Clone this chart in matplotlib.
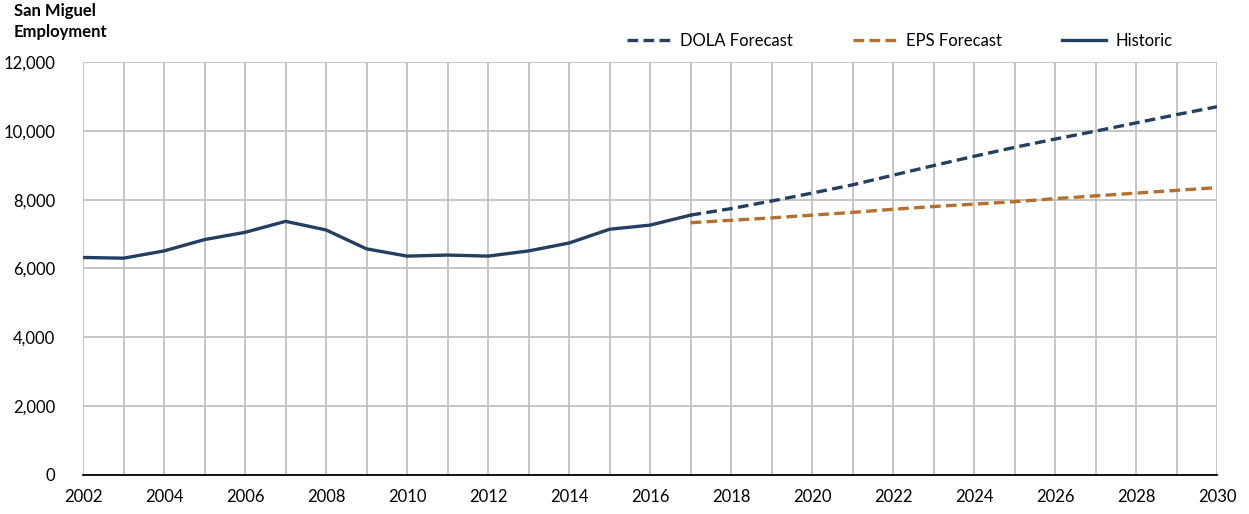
import matplotlib
matplotlib.use("Agg")
import matplotlib.pyplot as plt

plt.rcParams['font.family'] = ['Lato', 'DejaVu Sans']

# Historic employment, San Miguel County
hist_years = list(range(2002, 2018))
hist_vals = [6320, 6300, 6510, 6840, 7050, 7370, 7120, 6570,
             6360, 6390, 6360, 6510, 6740, 7140, 7260, 7550]

# forecasts 2017-2030
fc_years = list(range(2017, 2031))
dola_vals = [7550, 7740, 7960, 8190, 8430, 8710, 8990, 9260,
             9520, 9760, 9990, 10230, 10470, 10700]
eps_vals = [7330, 7400, 7470, 7550, 7630, 7720, 7800, 7870,
            7940, 8030, 8110, 8190, 8270, 8350]

navy = '#243f62'
orange = '#b5702c'

fig = plt.figure(figsize=(12.49, 5.14), dpi=100)
ax = fig.add_axes([0.0665, 0.0759, 0.9079, 0.8035])

ax.plot(fc_years, dola_vals, color=navy, lw=2.4, dashes=(3.2, 1.6), label='DOLA Forecast', zorder=3)
ax.plot(fc_years, eps_vals, color=orange, lw=2.4, dashes=(3.2, 1.6), label='EPS Forecast', zorder=3)
ax.plot(hist_years, hist_vals, color=navy, lw=2.4, label='Historic', zorder=4)

ax.set_xlim(2002, 2030)
ax.set_ylim(0, 12000)
ax.set_xticks(range(2002, 2031), minor=True)
ax.set_xticks(range(2002, 2031, 2))
ax.set_yticks(range(0, 12001, 2000))
ax.set_yticklabels([f'{v:,}' for v in range(0, 12001, 2000)])
ax.grid(True, which='both', axis='x', color='#c0c0c0', lw=1.3, zorder=1)
ax.grid(True, axis='y', color='#c0c0c0', lw=1.3, zorder=1)
ax.set_axisbelow(True)
ax.tick_params(which='both', length=0, labelsize=12, colors='black')
ax.tick_params(axis='x', pad=10)
ax.tick_params(axis='y', pad=20)
for s in ['top', 'right', 'left']:
    ax.spines[s].set_visible(False)
ax.spines['bottom'].set_color('black')
ax.spines['bottom'].set_linewidth(1.3)
ax.spines['bottom'].set_zorder(5)

fig.text(0.011, 0.995, 'San Miguel\nEmployment', ha='left', va='top',
         fontsize=12, fontweight='bold', linespacing=1.4)

fig.legend(loc='center left', bbox_to_anchor=(0.49, 0.92), ncol=3, frameon=False,
           fontsize=12, handlelength=2.6, handletextpad=0.6, columnspacing=3.6)

fig.savefig('out.png', dpi=100)
